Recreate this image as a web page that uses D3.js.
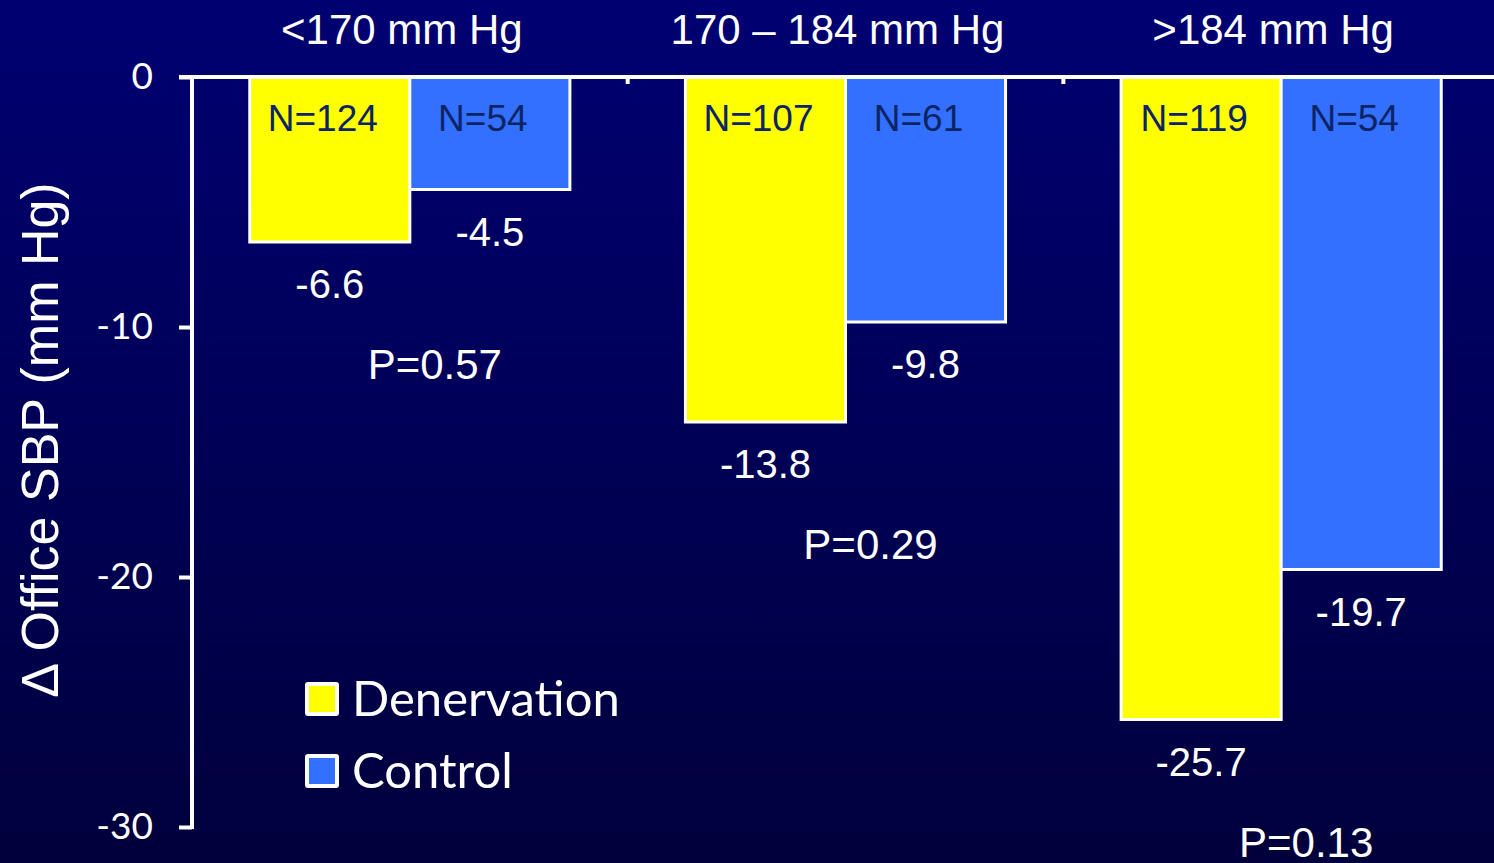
<!DOCTYPE html>
<html>
<head>
<meta charset="utf-8">
<script src="https://cdn.jsdelivr.net/npm/d3@7"></script>
<style>
  html, body { margin: 0; padding: 0; background: #000050; }
  svg { display: block; }
</style>
</head>
<body>
<svg id="chart" width="1494" height="863"></svg>
<script>
// Change in office systolic BP by baseline SBP stratum
const categories = ["<170 mm Hg", "170 \u2013 184 mm Hg", ">184 mm Hg"];
const seriesNames = ["Denervation", "Control"];
const denervation = [-6.6, -13.8, -25.7];
const control = [-4.5, -9.8, -19.7];
const denervationN = [124, 107, 119];
const controlN = [54, 61, 54];
const pValues = ["0.57", "0.29", "0.13"];
const yTicks = [0, -10, -20, -30];

const colors = { Denervation: "#ffff00", Control: "#3370ff" };

const W = 1494, H = 863;
const svg = d3.select("#chart");
const ARIAL = "Liberation Sans, Arial, sans-serif";
const CAL = "Lato, 'Open Sans', sans-serif";

// background gradient
const defs = svg.append("defs");
const grad = defs.append("linearGradient").attr("id", "bg")
  .attr("x1", 0).attr("y1", 0).attr("x2", 0).attr("y2", 1);
grad.append("stop").attr("offset", "0%").attr("stop-color", "#000072");
grad.append("stop").attr("offset", "100%").attr("stop-color", "#00003c");
svg.append("rect").attr("width", W).attr("height", H).attr("fill", "url(#bg)");

const plot = { left: 192, right: 1499, top: 77, bottom: 827 };

const x = d3.scaleBand().domain(categories).range([plot.left, plot.right]).padding(0);
const xs = d3.scaleBand().domain(seriesNames).range([0, x.bandwidth()]).paddingOuter(0.361).paddingInner(0);
const y = d3.scaleLinear().domain([0, -30]).range([plot.top, plot.bottom]);

const rows = categories.map((c, i) => ({
  cat: c,
  vals: [
    { s: "Denervation", v: denervation[i], n: denervationN[i] },
    { s: "Control", v: control[i], n: controlN[i] }
  ],
  p: pValues[i]
}));

// bars
const g = svg.append("g");
const groups = g.selectAll("g.grp").data(rows).join("g")
  .attr("class", "grp")
  .attr("transform", d => `translate(${x(d.cat)},0)`);

groups.selectAll("rect").data(d => d.vals).join("rect")
  .attr("x", d => xs(d.s))
  .attr("y", y(0))
  .attr("width", xs.bandwidth())
  .attr("height", d => y(d.v) - y(0))
  .attr("fill", d => colors[d.s])
  .attr("stroke", "#ffffff")
  .attr("stroke-width", 3);

// N labels inside bars
groups.selectAll("text.n").data(d => d.vals).join("text")
  .attr("class", "n")
  .attr("x", d => xs(d.s) + xs.bandwidth() / 2 - 7)
  .attr("y", 131)
  .attr("text-anchor", "middle")
  .attr("font-family", ARIAL)
  .attr("font-size", 37)
  .attr("fill", "#0c2466")
  .text(d => `N=${d.n}`);

// value labels below bars
groups.selectAll("text.v").data(d => d.vals).join("text")
  .attr("class", "v")
  .attr("x", d => xs(d.s) + xs.bandwidth() / 2)
  .attr("y", d => y(d.v) + 56)
  .attr("text-anchor", "middle")
  .attr("font-family", ARIAL)
  .attr("font-size", 40)
  .attr("fill", "#ffffff")
  .text(d => d.v.toFixed(1));

// p values
groups.append("text")
  .attr("x", x.bandwidth() / 2 + 25)
  .attr("y", d => y(d3.min(d.vals, v => v.v)) + 137)
  .attr("text-anchor", "middle")
  .attr("font-family", ARIAL)
  .attr("font-size", 42)
  .attr("fill", "#ffffff")
  .text(d => `P=${d.p}`);

// category headers
svg.selectAll("text.cat").data(categories).join("text")
  .attr("class", "cat")
  .attr("x", d => x(d) + x.bandwidth() / 2 - 8)
  .attr("y", 44)
  .attr("text-anchor", "middle")
  .attr("font-family", ARIAL)
  .attr("font-size", 42)
  .attr("fill", "#ffffff")
  .text(d => d);

// horizontal zero axis with category boundary ticks
const axisG = svg.append("g");
axisG.append("line")
  .attr("x1", plot.left - 13).attr("x2", W)
  .attr("y1", y(0)).attr("y2", y(0))
  .attr("stroke", "#fff").attr("stroke-width", 4);
axisG.selectAll("line.bt").data(categories.slice(1)).join("line")
  .attr("class", "bt")
  .attr("x1", d => x(d)).attr("x2", d => x(d))
  .attr("y1", y(0)).attr("y2", y(0) + 7)
  .attr("stroke", "#fff").attr("stroke-width", 4);

// y axis
const yAxis = d3.axisLeft(y).tickValues(yTicks).tickSize(13).tickPadding(26)
  .tickFormat(d => String(d));
const yg = svg.append("g").attr("transform", `translate(${plot.left},0)`).call(yAxis);
yg.select(".domain").attr("stroke", "#fff").attr("stroke-width", 4)
  .attr("d", `M0,${y(0) - 2}V${y(-30) + 2}`);
yg.selectAll(".tick line").attr("stroke", "#fff").attr("stroke-width", 4);
yg.selectAll(".tick text")
  .attr("fill", "#fff")
  .attr("font-family", CAL)
  .attr("font-size", 37);

// y axis title
svg.append("text")
  .attr("transform", `translate(58,440) rotate(-90)`)
  .attr("text-anchor", "middle")
  .attr("font-family", ARIAL)
  .attr("font-size", 52)
  .attr("fill", "#fff")
  .text("\u0394 Office SBP (mm Hg)");

// legend
const legend = svg.append("g").attr("transform", "translate(307,684)");
const li = legend.selectAll("g").data(seriesNames).join("g")
  .attr("transform", (d, i) => `translate(0,${i * 72})`);
li.append("rect")
  .attr("width", 30).attr("height", 30)
  .attr("fill", d => colors[d])
  .attr("stroke", "#fff").attr("stroke-width", 4).attr("rx", 1);
li.append("text")
  .attr("x", 45).attr("y", 32)
  .attr("font-family", CAL)
  .attr("font-size", 49)
  .attr("fill", "#fff")
  .text(d => d);
</script>
</body>
</html>
